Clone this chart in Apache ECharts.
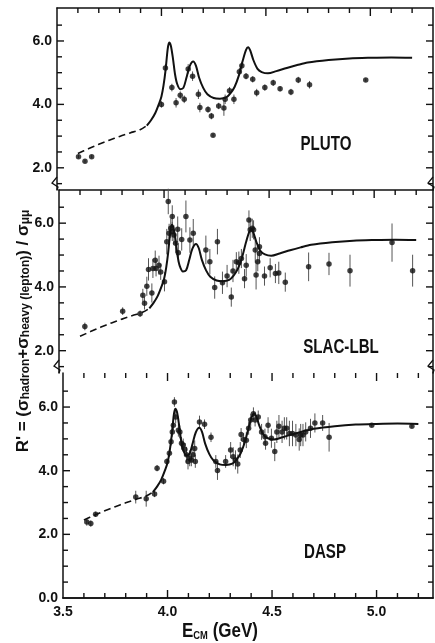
<!DOCTYPE html>
<html>
<head>
<meta charset="utf-8">
<script src="https://cdn.jsdelivr.net/npm/echarts@6/dist/echarts.min.js"></script>
<style>
  html, body { margin: 0; padding: 0; background: #fff; }
  #chart { width: 435px; height: 643px; }
</style>
</head>
<body>
<div id="chart"></div>
<script>
// measured points [E (GeV), R', error]
var plutoPoints = [
  [3.603,2.35,0.05],[3.634,2.21,0.05],[3.666,2.35,0.05],[4.0,4.0,0.1],[4.019,5.15,0.12],
  [4.05,4.53,0.12],[4.07,4.05,0.15],[4.09,4.29,0.12],[4.109,4.16,0.12],[4.128,5.12,0.15],
  [4.149,4.89,0.15],[4.177,4.32,0.15],[4.184,3.9,0.15],[4.223,3.84,0.1],[4.239,3.63,0.1],
  [4.247,3.03,0.05],[4.274,3.95,0.1],[4.299,3.89,0.25],[4.305,4.16,0.15],[4.326,4.43,0.12],
  [4.347,4.16,0.15],[4.373,5.03,0.12],[4.385,5.22,0.12],[4.405,4.89,0.1],[4.437,4.79,0.1],
  [4.456,4.37,0.12],[4.495,4.53,0.1],[4.535,4.68,0.1],[4.568,4.49,0.08],[4.62,4.39,0.1],
  [4.655,4.77,0.1],[4.709,4.62,0.12],[4.978,4.77,0.05]
];
var slacPoints = [
  [3.623,2.76,0.12],[3.803,3.24,0.12],[3.886,3.16,0.1],[3.899,3.74,0.2],[3.907,3.49,0.2],
  [3.918,4.02,0.3],[3.926,4.55,0.35],[3.942,3.81,0.3],[3.947,4.58,0.3],[3.958,4.84,0.3],
  [3.962,4.58,0.25],[3.976,4.68,0.3],[3.984,4.47,0.25],[4.002,4.16,0.3],[4.013,5.42,0.4],
  [4.02,6.68,0.4],[4.024,5.68,0.3],[4.032,5.84,0.3],[4.039,6.21,0.35],[4.039,5.74,0.3],
  [4.047,5.63,0.3],[4.055,5.37,0.3],[4.065,5.81,0.4],[4.068,5.07,0.3],[4.084,5.49,0.35],
  [4.104,6.21,0.5],[4.123,5.47,0.4],[4.139,5.68,0.45],[4.199,5.16,0.45],[4.218,4.79,0.4],
  [4.241,3.98,0.35],[4.254,5.42,0.4],[4.278,4.13,0.35],[4.3,4.34,0.35],[4.32,3.68,0.3],
  [4.328,4.5,0.35],[4.344,4.79,0.3],[4.356,4.76,0.35],[4.368,4.89,0.3],[4.383,4.26,0.3],
  [4.391,4.68,0.35],[4.404,6.1,0.3],[4.41,5.79,0.35],[4.42,5.84,0.3],[4.426,5.79,0.3],
  [4.434,5.16,0.4],[4.438,4.37,0.45],[4.446,4.79,0.3],[4.454,5.26,0.3],[4.454,5.05,0.3],
  [4.478,4.34,0.3],[4.505,4.6,0.3],[4.53,4.42,0.3],[4.546,4.44,0.35],[4.577,4.15,0.3],
  [4.688,4.63,0.45],[4.785,4.72,0.35],[4.885,4.51,0.5],[5.085,5.39,0.6],[5.183,4.51,0.5]
];
var daspPoints = [
  [3.614,2.39,0.12],[3.633,2.34,0.1],[3.656,2.63,0.08],[3.848,3.17,0.2],[3.898,3.12,0.25],
  [3.938,3.27,0.1],[3.95,4.08,0.1],[3.981,3.67,0.1],[3.997,4.29,0.1],[4.009,4.55,0.12],
  [4.017,4.91,0.12],[4.023,5.22,0.15],[4.028,5.43,0.15],[4.033,6.16,0.15],[4.039,5.69,0.2],
  [4.052,5.27,0.2],[4.059,5.22,0.2],[4.067,4.86,0.2],[4.075,4.81,0.2],[4.083,4.67,0.2],
  [4.091,4.5,0.25],[4.098,4.29,0.25],[4.106,4.39,0.25],[4.114,4.34,0.2],[4.122,4.5,0.25],
  [4.13,4.7,0.25],[4.133,4.29,0.2],[4.153,5.53,0.2],[4.177,5.46,0.15],[4.208,5.05,0.15],
  [4.231,4.29,0.2],[4.239,4.01,0.3],[4.278,4.29,0.2],[4.302,4.65,0.25],[4.314,4.44,0.3],
  [4.325,4.34,0.3],[4.336,4.21,0.3],[4.348,4.65,0.25],[4.352,5.14,0.2],[4.364,4.98,0.2],
  [4.377,4.96,0.25],[4.388,5.33,0.2],[4.398,5.59,0.2],[4.411,5.79,0.2],[4.419,5.59,0.2],
  [4.434,5.69,0.2],[4.45,5.22,0.25],[4.466,5.07,0.25],[4.469,4.86,0.2],[4.481,5.43,0.25],
  [4.497,5.02,0.3],[4.513,4.6,0.3],[4.523,5.22,0.35],[4.533,5.4,0.35],[4.548,5.22,0.35],
  [4.559,5.33,0.35],[4.57,5.33,0.35],[4.583,5.17,0.4],[4.598,5.17,0.4],[4.614,5.12,0.35],
  [4.63,4.98,0.35],[4.637,5.12,0.35],[4.648,5.12,0.35],[4.661,5.22,0.3],[4.684,5.33,0.3],
  [4.705,5.5,0.3],[4.742,5.5,0.25],[4.773,5.05,0.45],[4.977,5.43,0.05],[5.169,5.4,0.05]
];

// model curve, same in all three panels
var curveDashed = [
  [3.6,2.45],[3.65,2.6],[3.7,2.74],[3.75,2.87],[3.8,2.99],[3.85,3.1],[3.9,3.21],[3.93,3.33]
];
var curveSolid = [
  [3.93,3.33],[3.95,3.5],[3.97,3.72],[3.99,4.05],[4.0,4.25],[4.01,4.6],[4.02,5.1],[4.03,5.75],
  [4.037,5.95],[4.045,5.85],[4.055,5.45],[4.065,4.95],[4.075,4.65],[4.09,4.48],[4.105,4.52],
  [4.12,4.85],[4.135,5.2],[4.152,5.35],[4.165,5.22],[4.18,4.85],[4.2,4.52],[4.22,4.32],
  [4.25,4.2],[4.28,4.18],[4.31,4.22],[4.33,4.35],[4.35,4.55],[4.37,4.9],[4.39,5.4],
  [4.405,5.72],[4.415,5.8],[4.425,5.7],[4.44,5.4],[4.46,5.12],[4.48,5.02],[4.51,4.98],
  [4.55,5.05],[4.6,5.15],[4.65,5.24],[4.7,5.32],[4.8,5.4],[4.9,5.45],[5.0,5.47],[5.1,5.48],[5.2,5.47]
];

var panelNames = ['PLUTO', 'SLAC-LBL', 'DASP'];
var xTickValues = [3.6,3.7,3.8,3.9,4.0,4.1,4.2,4.3,4.4,4.5,4.6,4.7,4.8,4.9,5.0,5.1,5.2];
var xLabelValues = [3.5, 4.0, 4.5, 5.0];
var yTickValues = [0.5,1,1.5,2,2.5,3,3.5,4,4.5,5,5.5,6,6.5];
var yLabelValues = [[2, 4, 6], [2, 4, 6], [0, 2, 4, 6]];

var font = '"Liberation Sans", Arial, sans-serif';
var ink = '#111';

var myChart = echarts.init(document.getElementById('chart'));

// the scan is slightly skewed, so each panel sits a few px apart
var grids = [
  { left: 57, top: 8, width: 376, height: 182 },
  { left: 59, top: 190, width: 374, height: 183 },
  { left: 63, top: 373, width: 370, height: 225 }
];
var xMax = [5.3, 5.28, 5.27];
var yMin = [1.3, 1.3, 0];
var yMax = [7.04, 7.04, 7.07];

var xAxes = [], yAxes = [], series = [];
var allPoints = [plutoPoints, slacPoints, daspPoints];

for (var i = 0; i < 3; i++) {
  xAxes.push({
    type: 'value', gridIndex: i, position: 'top', min: 3.5, max: xMax[i],
    axisLine: { lineStyle: { color: ink, width: 1.5 } },
    axisTick: { show: false }, axisLabel: { show: false }, splitLine: { show: false }
  });
  yAxes.push({
    type: 'value', gridIndex: i, position: 'left', min: yMin[i], max: yMax[i],
    axisLine: { show: true, lineStyle: { color: ink, width: 1.5 } },
    axisTick: { show: false },
    axisLabel: {
      customValues: yLabelValues[i], margin: 5, color: ink,
      fontFamily: font, fontWeight: 'bold', fontSize: 14,
      formatter: function (v) { return v.toFixed(1); }
    },
    splitLine: { show: false }
  });
  yAxes.push({
    type: 'value', gridIndex: i, position: 'right', min: yMin[i], max: yMax[i],
    axisLine: { show: true, lineStyle: { color: ink, width: 1.5 } },
    axisTick: { show: false }, axisLabel: { show: false }, splitLine: { show: false }
  });
}
// bottom axis with the energy labels
xAxes.push({
  type: 'value', gridIndex: 2, position: 'bottom', min: 3.5, max: xMax[2],
  axisLine: { lineStyle: { color: ink, width: 1.5 } },
  axisTick: { show: false },
  axisLabel: {
    customValues: xLabelValues, margin: 7, color: ink,
    fontFamily: font, fontWeight: 'bold', fontSize: 14,
    formatter: function (v) { return v.toFixed(1); }
  },
  splitLine: { show: false }
});

function errorBar(params, api) {
  var lo = api.coord([api.value(0), api.value(1) - api.value(2)]);
  var hi = api.coord([api.value(0), api.value(1) + api.value(2)]);
  return {
    type: 'line',
    shape: { x1: lo[0], y1: lo[1], x2: hi[0], y2: hi[1] },
    style: { stroke: '#555', lineWidth: 1 }
  };
}

function tickLine(x1, y1, x2, y2) {
  return { type: 'line', shape: { x1: x1, y1: y1, x2: x2, y2: y2 }, style: { stroke: ink, lineWidth: 1.4 } };
}

// energy ticks along the panel edges, pointing inward
function xTickRenderer(withBottom) {
  return function (params, api) {
    var cs = params.coordSys;
    var v = api.value(0);
    var x = api.coord([v, 4])[0];
    var len = Math.abs(v * 2 - Math.round(v * 2)) < 1e-6 ? 8 : 5;
    var kids = [tickLine(x, cs.y, x, cs.y + len)];
    if (withBottom) kids.push(tickLine(x, cs.y + cs.height, x, cs.y + cs.height - len));
    return { type: 'group', children: kids };
  };
}
// R' ticks on both side frames
function yTickRenderer(params, api) {
  var cs = params.coordSys;
  var v = api.value(1);
  var y = api.coord([4, v])[1];
  var len = v % 2 === 0 ? 7 : 5;
  return {
    type: 'group',
    children: [
      tickLine(cs.x, y, cs.x + len, y),
      tickLine(cs.x + cs.width, y, cs.x + cs.width - len, y)
    ]
  };
}

for (var k = 0; k < 3; k++) {
  series.push({
    type: 'custom', xAxisIndex: k, yAxisIndex: 2 * k, silent: true, z: 5,
    data: xTickValues.map(function (v) { return [v, 4]; }),
    renderItem: xTickRenderer(k === 2)
  });
  series.push({
    type: 'custom', xAxisIndex: k, yAxisIndex: 2 * k, silent: true, z: 5,
    data: yTickValues.filter(function (v) { return v > yMin[k]; }).map(function (v) { return [4, v]; }),
    renderItem: yTickRenderer
  });
  series.push({
    type: 'line', xAxisIndex: k, yAxisIndex: 2 * k, data: curveDashed,
    showSymbol: false, smooth: 0.3, silent: true,
    lineStyle: { color: ink, width: 1.6, type: [7, 4] }
  });
  series.push({
    type: 'line', xAxisIndex: k, yAxisIndex: 2 * k, data: curveSolid,
    showSymbol: false, smooth: 0.3, silent: true,
    lineStyle: { color: ink, width: 2 }
  });
  series.push({
    type: 'custom', xAxisIndex: k, yAxisIndex: 2 * k, data: allPoints[k],
    renderItem: errorBar, encode: { x: 0, y: 1 }, silent: true
  });
  series.push({
    type: 'scatter', xAxisIndex: k, yAxisIndex: 2 * k, data: allPoints[k],
    symbol: 'circle', symbolSize: 5.5, itemStyle: { color: ink }, silent: true
  });
}

var labelPos = [[326, 144], [341, 347], [325, 552]];
var graphics = [];
for (var n = 0; n < 3; n++) {
  graphics.push({
    type: 'text', x: labelPos[n][0], y: labelPos[n][1], scaleX: 0.72,
    style: {
      text: panelNames[n], fill: ink, font: 'bold 21px ' + font,
      align: 'center', verticalAlign: 'middle'
    }
  });
}
// axis-break zigzags
[[57, 177], [59, 360], [433, 177], [433, 360]].forEach(function (b) {
  graphics.push({
    type: 'polyline',
    shape: { points: [[b[0], b[1]], [b[0] - 5, b[1] + 6], [b[0] + 1, b[1] + 10], [b[0], b[1] + 13]] },
    style: { stroke: ink, lineWidth: 1.3, fill: null }
  });
});
// x axis title
graphics.push({
  type: 'text', x: 220, y: 630, scaleX: 0.85,
  style: {
    text: '{e|E}{s|CM}{e| (GeV)}',
    align: 'center', verticalAlign: 'middle',
    rich: {
      e: { fontSize: 20, fontFamily: font, fontWeight: 'bold', fill: ink, lineHeight: 22, verticalAlign: 'bottom' },
      s: { fontSize: 11, fontFamily: font, fontWeight: 'bold', fill: ink, lineHeight: 10, verticalAlign: 'bottom' }
    }
  }
});
// y axis title
graphics.push({
  type: 'text', x: 22, y: 331, rotation: Math.PI / 2,
  style: {
    text: "{n|R' = (σ}{s|hadron}{n|+σ}{s|heavy (lepton)}{n|) / σ}{s|μμ}",
    align: 'center', verticalAlign: 'middle',
    rich: {
      n: { fontSize: 17, fontFamily: font, fontWeight: 'bold', fill: ink, lineHeight: 20, verticalAlign: 'bottom' },
      s: { fontSize: 12, fontFamily: font, fontWeight: 'bold', fill: ink, lineHeight: 8, verticalAlign: 'bottom' }
    }
  }
});

var option = {
  backgroundColor: '#fff',
  animation: false,
  grid: grids,
  xAxis: xAxes,
  yAxis: yAxes,
  series: series,
  graphic: graphics
};
myChart.setOption(option);
</script>
</body>
</html>
